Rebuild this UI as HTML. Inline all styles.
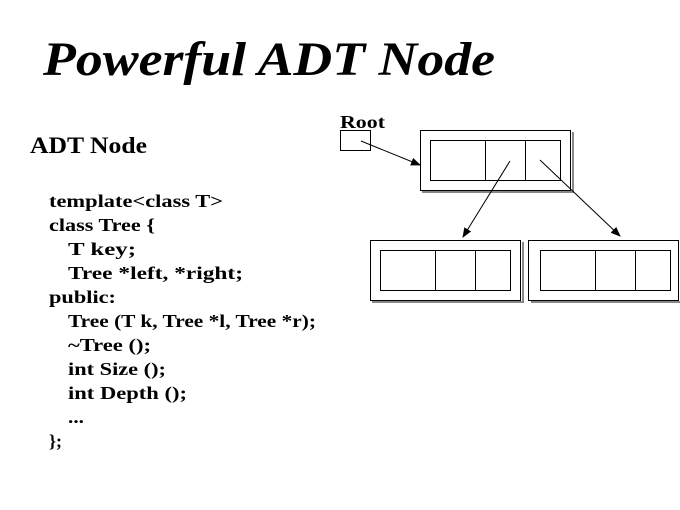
<!DOCTYPE html>
<html><head><style>body{margin:0;background:#fff}svg{display:block}</style></head><body>
<svg width="680" height="510" xmlns="http://www.w3.org/2000/svg" font-family="'Liberation Serif',serif" font-weight="bold">
<defs><marker id="a" markerWidth="10" markerHeight="8" refX="9" refY="4" orient="auto" markerUnits="userSpaceOnUse"><path d="M0,0 L10,4 L0,8 z" fill="#000"/></marker></defs>
<text x="43" y="75" font-size="48" font-style="italic" textLength="452" lengthAdjust="spacingAndGlyphs">Powerful ADT Node</text>
<text x="30" y="153" font-size="23" textLength="117" lengthAdjust="spacingAndGlyphs">ADT Node</text>
<g font-size="18" lengthAdjust="spacingAndGlyphs">
<text x="49" y="207" textLength="174" lengthAdjust="spacingAndGlyphs">template&lt;class T&gt;</text>
<text x="49" y="231" textLength="106" lengthAdjust="spacingAndGlyphs">class Tree {</text>
<text x="68" y="255" textLength="68" lengthAdjust="spacingAndGlyphs">T key;</text>
<text x="68" y="279" textLength="175" lengthAdjust="spacingAndGlyphs">Tree *left, *right;</text>
<text x="49" y="303" textLength="67" lengthAdjust="spacingAndGlyphs">public:</text>
<text x="68" y="327" textLength="248" lengthAdjust="spacingAndGlyphs">Tree (T k, Tree *l, Tree *r);</text>
<text x="68" y="351" textLength="83" lengthAdjust="spacingAndGlyphs">~Tree ();</text>
<text x="68" y="375" textLength="98" lengthAdjust="spacingAndGlyphs">int Size ();</text>
<text x="68" y="399" textLength="119" lengthAdjust="spacingAndGlyphs">int Depth ();</text>
<text x="68" y="423" textLength="16" lengthAdjust="spacingAndGlyphs">...</text>
<text x="49" y="447" textLength="13" lengthAdjust="spacingAndGlyphs">};</text>
</g>
<text x="340" y="128" font-size="18" textLength="45" lengthAdjust="spacingAndGlyphs">Root</text>
<g fill="none" stroke="#000" stroke-width="1">
<rect x="340.5" y="130.5" width="30" height="20"/>
<g stroke="#888" stroke-width="2"><path d="M573,132 V192 H422"/><path d="M523,242 V302 H372"/><path d="M681,242 V302 H531"/></g>
<rect x="420.5" y="130.5" width="150" height="60" fill="#fff"/>
<rect x="430.5" y="140.5" width="130" height="40"/><path d="M485.5,140 V180 M525.5,140 V180"/>
<rect x="370.5" y="240.5" width="150" height="60" fill="#fff"/>
<rect x="380.5" y="250.5" width="130" height="40"/><path d="M435.5,250 V290 M475.5,250 V290"/>
<rect x="528.5" y="240.5" width="150" height="60" fill="#fff"/>
<rect x="540.5" y="250.5" width="130" height="40"/><path d="M595.5,250 V290 M635.5,250 V290"/>
<line x1="361" y1="141" x2="420" y2="165" marker-end="url(#a)"/>
<line x1="510" y1="161" x2="463" y2="237" marker-end="url(#a)"/>
<line x1="540" y1="160" x2="620" y2="236" marker-end="url(#a)"/>
</g>
</svg>
</body></html>
